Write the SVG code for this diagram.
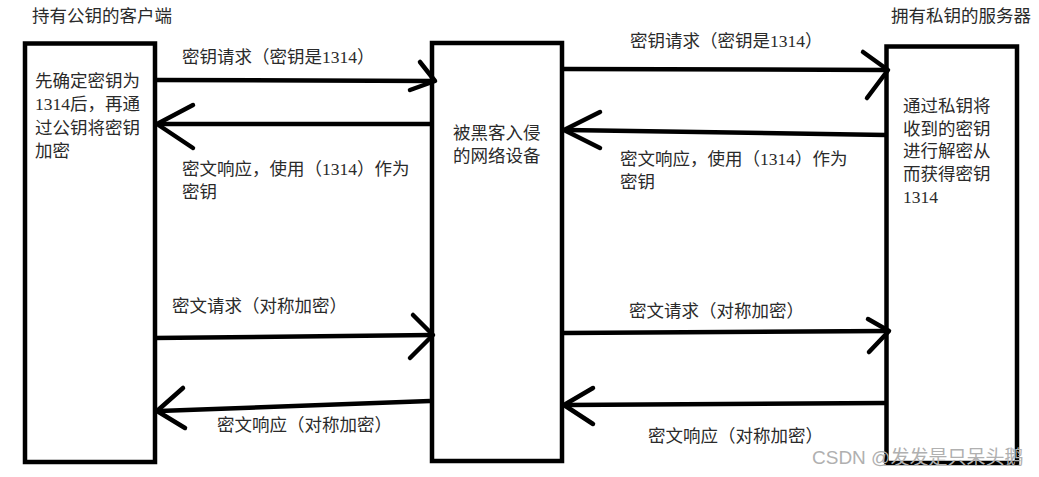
<svg xmlns="http://www.w3.org/2000/svg" width="1039" height="477" viewBox="0 0 1039 477">
<style>
.box{fill:#fff;stroke:#000;stroke-width:4.5}
.t{font-family:"Liberation Serif","Noto Sans CJK SC",serif;font-size:17.5px;fill:#2a2a2a}
.ln{stroke:#000;stroke-width:4.5;fill:none;stroke-linecap:butt}
.ah{stroke:#000;stroke-width:4.5;fill:none;stroke-linecap:round;stroke-linejoin:round}
.wm{font-family:"Liberation Sans","Noto Sans CJK SC",sans-serif;font-size:19px;fill:#b0b0b0}
</style>
<rect width="1039" height="477" fill="#fff"/>
<g id="client">
<rect class="box" x="25" y="43.5" width="130" height="418.5"/>
<text class="t" x="32" y="21.5">持有公钥的客户端</text>
<text class="t" x="35" y="86.5">先确定密钥为</text>
<text class="t" x="35" y="109.5">1314后，再通</text>
<text class="t" x="35" y="133.5">过公钥将密钥</text>
<text class="t" x="35" y="156.5">加密</text>
</g>
<g id="hacked-device">
<rect class="box" x="432" y="43" width="130" height="418"/>
<text class="t" x="453" y="138.5">被黑客入侵</text>
<text class="t" x="453" y="161.5">的网络设备</text>
</g>
<g id="server">
<rect class="box" x="886.5" y="46.5" width="130.5" height="416.5"/>
<text class="t" x="891" y="21.5">拥有私钥的服务器</text>
<text class="t" x="903" y="111.5">通过私钥将</text>
<text class="t" x="903" y="134.5">收到的密钥</text>
<text class="t" x="903" y="157">进行解密从</text>
<text class="t" x="903" y="180">而获得密钥</text>
<text class="t" x="903" y="203">1314</text>
</g>
<g id="connectors">
<line class="ln" x1="157" y1="80" x2="433" y2="81"/>
<polyline class="ah" points="420,62 435,81 410,90"/>
<line class="ln" x1="430" y1="124" x2="159" y2="124"/>
<polyline class="ah" points="193,105 157,124 193,148"/>
<line class="ln" x1="564" y1="69" x2="887" y2="70"/>
<polyline class="ah" points="863,52 888,70 867,98"/>
<line class="ln" x1="886" y1="135" x2="566" y2="130"/>
<polyline class="ah" points="600,112 564,130 600,148"/>
<line class="ln" x1="153" y1="338" x2="432" y2="335"/>
<polyline class="ah" points="413,315 433,335 410,358"/>
<line class="ln" x1="430" y1="401" x2="159" y2="411"/>
<polyline class="ah" points="183,388 157,411 185,428"/>
<line class="ln" x1="564" y1="333" x2="888" y2="331"/>
<polyline class="ah" points="868,319 889,331 869,352"/>
<line class="ln" x1="886" y1="403" x2="566" y2="405"/>
<polyline class="ah" points="593,388 564,405 593,424"/>
</g>
<g id="labels">
<text class="t" x="182" y="62.5">密钥请求（密钥是1314）</text>
<text class="t" x="182" y="174.5">密文响应，使用（1314）作为</text>
<text class="t" x="182" y="197.5">密钥</text>
<text class="t" x="630" y="46.5">密钥请求（密钥是1314）</text>
<text class="t" x="620" y="164.5">密文响应，使用（1314）作为</text>
<text class="t" x="620" y="187.5">密钥</text>
<text class="t" x="172" y="311.5">密文请求（对称加密）</text>
<text class="t" x="217" y="430.5">密文响应（对称加密）</text>
<text class="t" x="629" y="316.5">密文请求（对称加密）</text>
<text class="t" x="648" y="441.5">密文响应（对称加密）</text>
</g>
<text class="wm" x="812" y="463.5">CSDN @发发是只呆头鹅</text>
</svg>
